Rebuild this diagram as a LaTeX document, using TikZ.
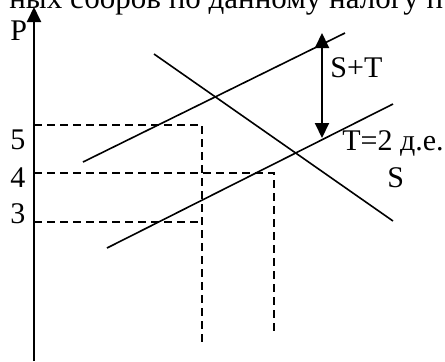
\documentclass[tikz,border=0pt]{standalone}
\usepackage{fontspec}
\setmainfont{Liberation Serif}
\usetikzlibrary{arrows.meta}
\begin{document}
\begin{tikzpicture}[x=0.5pt,y=-0.5pt,
  >={Triangle[width=7pt,length=7.5pt]},
  curve/.style={line width=0.8pt},
  guide/.style={line width=0.8pt, dash pattern=on 4pt off 2.5pt},
  axisline/.style={line width=1pt},
  lbl/.style={inner sep=0pt, font=\fontsize{15}{18}\selectfont, anchor=base west}]
\useasboundingbox (0,0) rectangle (445,361);
\begin{scope}
  \clip (0,0) rectangle (445,361);
  \node[lbl, font=\fontsize{15.5}{18}\selectfont] (head) at (9,8) {ных сборов по данному налогу п};
\end{scope}
% axis
\coordinate (O) at (34,361);
\coordinate (Ptop) at (34,7);
\draw[axisline,->] (O) -- (Ptop);
\node[lbl] (P) at (10,40) {P};
% guides
\coordinate (y5) at (34,125); \coordinate (q5) at (202,125); \coordinate (b5) at (202,342);
\coordinate (y4) at (34,173); \coordinate (q4) at (274,173); \coordinate (b4) at (274,335);
\coordinate (y3) at (34,222); \coordinate (q3) at (202,222);
\draw[guide] (y5) -- (q5) -- (b5);
\draw[guide] (y4) -- (q4) -- (b4);
\draw[guide] (y3) -- (q3);
\node[lbl] (l5) at (10,149) {5};
\node[lbl] (l4) at (10,187) {4};
\node[lbl] (l3) at (10,223) {3};
% curves
\coordinate (st1) at (83,162); \coordinate (st2) at (345,33);
\coordinate (s1) at (107,248); \coordinate (s2) at (393,104);
\coordinate (d1) at (154,54); \coordinate (d2) at (393,221);
\draw[curve] (st1) -- (st2);
\draw[curve] (s1) -- (s2);
\draw[curve] (d1) -- (d2);
% tax arrow
\coordinate (tb) at (322,138); \coordinate (tt) at (322,33);
\draw[axisline,<->] (tb) -- (tt);
\node[lbl] (lst) at (330,77) {S+T};
\node[lbl] (lt) at (342,150) {T=2 д.е.};
\node[lbl] (ls) at (387,187) {S};
\end{tikzpicture}
\end{document}
